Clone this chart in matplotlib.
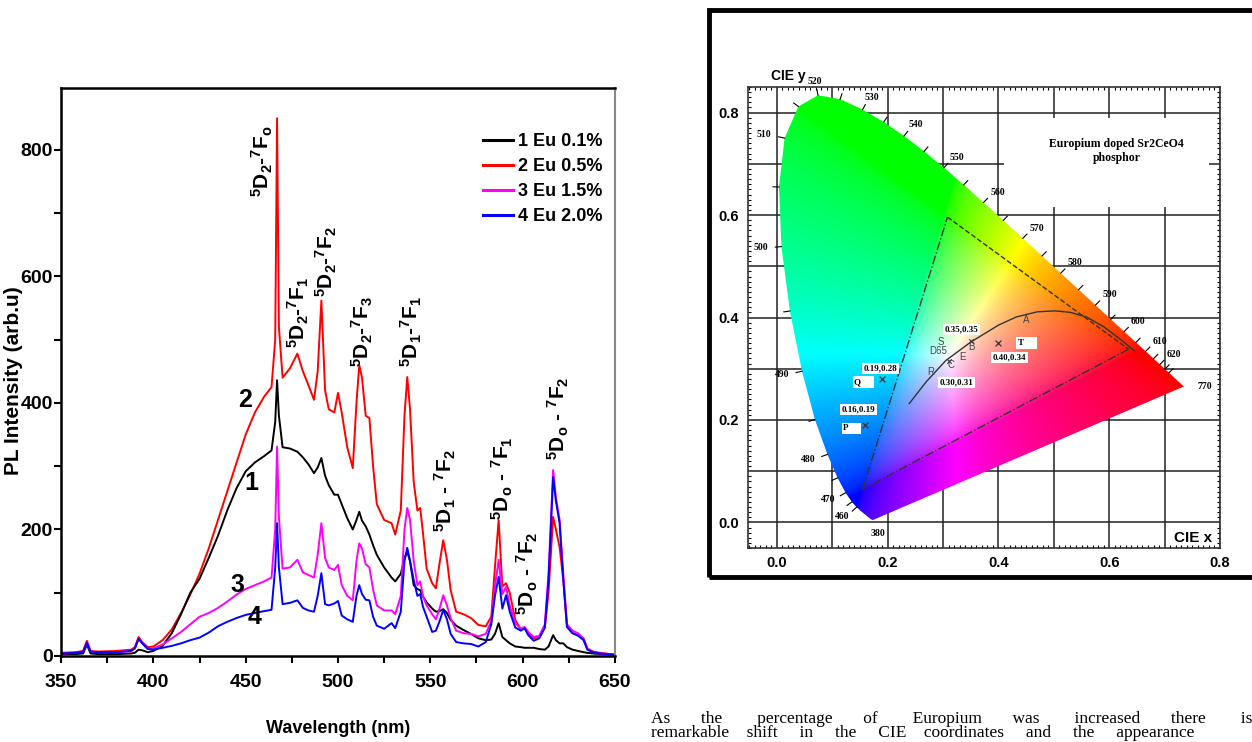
import numpy as np
import matplotlib.pyplot as plt
from matplotlib import font_manager
from matplotlib.lines import Line2D
from matplotlib.patches import Polygon, Rectangle
from matplotlib.ticker import MultipleLocator

plt.rcParams['mathtext.fontset'] = 'custom'
plt.rcParams['mathtext.bf'] = 'Liberation Sans:bold'
plt.rcParams['mathtext.rm'] = 'Liberation Sans:bold'
plt.rcParams['mathtext.default'] = 'bf'

SANS = ['Liberation Sans', 'DejaVu Sans']
SERIF = ['Liberation Serif', 'DejaVu Serif']
# the original uses a condensed bold face; take the narrow Liberation one if present
installed = {f.name for f in font_manager.fontManager.ttflist}
if 'Liberation Sans Narrow' in installed:
    NARROW, tick_fs, legend_fs, xlabel_fs = ['Liberation Sans Narrow'] + SANS, 17, 15, 15
else:
    NARROW, tick_fs, legend_fs, xlabel_fs = SANS, 14, 13, 13

# PL emission spectra of Eu doped Sr2CeO4
wavelength = [350, 358, 362, 364, 366, 370, 380, 388, 390, 392, 394, 397,
              400, 405, 410, 415, 420, 425, 430, 435, 440, 445, 450, 455,
              460, 464, 466, 467, 468, 470, 474, 478, 481, 484, 487, 489,
              491, 493, 495, 498, 500, 502, 505, 508, 510, 511.5, 513, 515,
              517, 519, 521, 525, 529, 531, 534, 536, 537.5, 539, 541, 543,
              544.5, 546, 548, 551, 553, 555, 557, 559, 561, 564, 568, 572,
              576, 580, 583, 585, 587, 589, 591, 593, 596, 599, 601, 603,
              606, 609, 612, 614, 616.5, 618, 620, 622, 624, 627, 630, 633,
              635, 638, 642, 650]
pl_eu01 = [3, 3, 4, 18, 4, 3, 3, 4, 5, 10, 9, 6,
           8, 16, 36, 66, 100, 122, 155, 190, 230, 265, 292, 306,
           316, 325, 370, 436, 380, 330, 328, 323, 314, 303, 289, 298,
           313, 285, 270, 255, 255, 240, 218, 200, 215, 228, 214, 205,
           192, 175, 160, 140, 124, 118, 130, 155, 165, 150, 112, 106,
           104, 94, 85, 75, 70, 71, 74, 68, 57, 48, 41, 35,
           28, 25, 26, 35, 52, 30, 25, 20, 15, 14, 13, 13,
           13, 11, 10, 15, 33, 25, 20, 20, 14, 10, 8, 6,
           5, 4, 3, 2]
pl_eu05 = [5, 6, 8, 24, 8, 7, 8, 10, 14, 30, 22, 14,
           15, 25, 42, 68, 97, 130, 170, 215, 260, 305, 350, 385,
           410, 425, 500, 850, 520, 440, 455, 478, 450, 428, 405, 450,
           562, 420, 390, 385, 416, 385, 330, 297, 400, 460, 440, 380,
           376, 300, 240, 215, 210, 192, 230, 380, 441, 390, 275, 230,
           234, 195, 138, 115, 107, 147, 183, 152, 104, 70, 66, 60,
           49, 47, 62, 141, 215, 110, 115, 100, 57, 42, 44, 35,
           28, 30, 45, 100, 220, 200, 172, 120, 46, 36, 34, 28,
           12, 7, 5, 2]
pl_eu15 = [4, 5, 7, 21, 7, 6, 6, 8, 12, 27, 20, 11,
           12, 18, 28, 38, 50, 62, 68, 76, 86, 97, 106, 112,
           118, 124, 200, 331, 220, 138, 140, 152, 132, 128, 124, 160,
           210, 155, 140, 136, 144, 112, 95, 88, 150, 178, 170, 145,
           140, 105, 80, 72, 72, 66, 95, 200, 234, 215, 150, 112,
           118, 95, 80, 66, 58, 75, 96, 80, 60, 40, 36, 35,
           31, 35, 55, 110, 152, 98, 109, 80, 52, 43, 46, 38,
           30, 32, 50, 130, 294, 250, 215, 130, 50, 40, 36, 26,
           12, 6, 4, 2]
pl_eu20 = [4, 5, 7, 21, 7, 6, 6, 8, 12, 27, 20, 11,
           10, 13, 16, 20, 25, 29, 37, 47, 54, 60, 65, 68,
           71, 73, 140, 210, 140, 82, 84, 88, 76, 72, 70, 95,
           131, 82, 80, 83, 87, 64, 58, 54, 95, 112, 98, 89,
           88, 62, 48, 43, 52, 44, 70, 150, 171, 150, 120, 95,
           98, 78, 62, 38, 40, 55, 73, 58, 35, 22, 20, 19,
           15, 22, 50, 95, 125, 75, 96, 70, 45, 40, 44, 33,
           24, 28, 45, 120, 283, 245, 210, 120, 46, 36, 32, 25,
           10, 6, 4, 2]
series = [pl_eu01, pl_eu05, pl_eu15, pl_eu20]
series_labels = ['1 Eu 0.1%', '2 Eu 0.5%', '3 Eu 1.5%', '4 Eu 2.0%']
series_colors = ['black', '#ff0000', '#ff00ff', '#0000ff']
draw_order = [1, 0, 2, 3]

transitions = [r'$^{5}$D$_{2}$-$^{7}$F$_{o}$', r'$^{5}$D$_{2}$-$^{7}$F$_{1}$',
               r'$^{5}$D$_{2}$-$^{7}$F$_{2}$', r'$^{5}$D$_{2}$-$^{7}$F$_{3}$',
               r'$^{5}$D$_{1}$-$^{7}$F$_{1}$', r'$^{5}$D$_{1}$ - $^{7}$F$_{2}$',
               r'$^{5}$D$_{o}$ - $^{7}$F$_{1}$', r'$^{5}$D$_{o}$ - $^{7}$F$_{2}$',
               r'$^{5}$D$_{o}$ - $^{7}$F$_{2}$']
transition_at = [(458.8, 726), (478.3, 487), (493.5, 568), (513, 457), (540, 457),
                 (558.4, 196), (588.8, 215), (602.8, 65), (619.1, 310)]
curve_numbers = ['2', '1', '3', '4']
curve_number_at = [(449.6, 405), (452.9, 273), (445.8, 112), (455, 62)]

# CIE 1931 spectral locus
locus_wl = [380, 400, 420, 430, 440, 450, 455, 460, 465, 470, 475, 480, 485,
            490, 495, 500, 505, 510, 515, 520, 525, 530, 535, 540, 545, 550,
            555, 560, 565, 570, 575, 580, 585, 590, 595, 600, 605, 610, 615,
            620, 625, 630, 640, 650, 770]
locus_x = [0.1741, 0.1733, 0.1714, 0.1689, 0.1644, 0.1566, 0.1510, 0.1440,
           0.1355, 0.1241, 0.1096, 0.0913, 0.0687, 0.0454, 0.0235, 0.0082,
           0.0039, 0.0139, 0.0389, 0.0743, 0.1142, 0.1547, 0.1929, 0.2296,
           0.2658, 0.3016, 0.3373, 0.3731, 0.4087, 0.4441, 0.4788, 0.5125,
           0.5448, 0.5752, 0.6029, 0.6270, 0.6482, 0.6658, 0.6801, 0.6915,
           0.7006, 0.7079, 0.7190, 0.7260, 0.7347]
locus_y = [0.0050, 0.0048, 0.0051, 0.0069, 0.0109, 0.0177, 0.0227, 0.0297,
           0.0399, 0.0578, 0.0868, 0.1327, 0.2007, 0.2950, 0.4127, 0.5384,
           0.6548, 0.7502, 0.8120, 0.8338, 0.8262, 0.8059, 0.7816, 0.7543,
           0.7243, 0.6923, 0.6589, 0.6245, 0.5896, 0.5547, 0.5202, 0.4866,
           0.4544, 0.4242, 0.3965, 0.3725, 0.3514, 0.3340, 0.3197, 0.3083,
           0.2993, 0.2920, 0.2809, 0.2740, 0.2653]
locus_ticks = [460, 465, 470, 475, 480, 485, 490, 495, 500, 505, 510, 515,
               520, 525, 530, 535, 540, 545, 550, 555, 560, 565, 570, 575,
               580, 585, 590, 595, 600, 605, 610, 615, 620, 625, 630]
locus_labels = [380, 460, 470, 480, 490, 500, 510, 520, 530, 540, 550, 560,
                570, 580, 590, 600, 610, 620, 770]
gamut_x = [0.155, 0.308, 0.635]
gamut_y = [0.065, 0.596, 0.338]
planck_x = [0.239, 0.27, 0.305, 0.35, 0.40, 0.432, 0.47, 0.502, 0.53, 0.559,
            0.59, 0.623, 0.645]
planck_y = [0.232, 0.275, 0.316, 0.352, 0.385, 0.401, 0.411, 0.413, 0.41,
            0.401, 0.382, 0.355, 0.335]
sample_names = ['Q', 'P', 'T']
sample_x = [0.19, 0.16, 0.40]
sample_y = [0.28, 0.19, 0.35]
ref_names = ['S', 'D65', 'B', 'E', 'C', 'R', 'A']
ref_x = [0.296, 0.291, 0.351, 0.335, 0.314, 0.278, 0.451]
ref_y = [0.352, 0.335, 0.342, 0.323, 0.307, 0.294, 0.396]

paragraph = [['As', 'the', 'percentage', 'of', 'Europium', 'was', 'increased',
              'there', 'is', 'a'],
             ['remarkable', 'shift', 'in', 'the', 'CIE', 'coordinates', 'and',
              'the', 'appearance']]

W, H = 1252, 742
fig = plt.figure(figsize=(W / 100, H / 100), dpi=100)

# ---------------- left: PL spectra ----------------
ax = fig.add_axes([61 / W, 1 - 656 / H, 554 / W, 568 / H])
for i in draw_order:
    ax.plot(wavelength, series[i], color=series_colors[i], lw=1.4,
            solid_joinstyle='round')
ax.set_xlim(350, 650)
ax.set_ylim(0, 898)
ax.xaxis.set_major_locator(MultipleLocator(50))
ax.xaxis.set_minor_locator(MultipleLocator(25))
ax.yaxis.set_major_locator(MultipleLocator(200))
ax.yaxis.set_minor_locator(MultipleLocator(100))
ax.tick_params(which='both', direction='out', width=1.5, length=5)
ax.tick_params(which='major', labelsize=tick_fs)
ax.tick_params(axis='x', which='major', pad=8)
ax.tick_params(axis='y', which='major', pad=1)
for lab in ax.get_xticklabels() + ax.get_yticklabels():
    lab.set_family(NARROW)
    lab.set_fontweight('bold')
for side in ['left', 'bottom', 'top']:
    ax.spines[side].set_linewidth(1.8)
ax.spines['right'].set_color('#888888')
ax.spines['right'].set_linewidth(1.5)
ax.set_xlabel('Wavelength (nm)', fontsize=xlabel_fs, fontweight='bold', family=NARROW)
ax.xaxis.set_label_coords(0.5, -0.113)
ax.set_ylabel('PL Intensity (arb.u)', fontsize=15, fontweight='bold', family=SANS)
ax.yaxis.set_label_coords(-0.069, 0.484)

for txt, (x, y) in zip(transitions, transition_at):
    ax.text(x, y, txt, rotation=90, ha='center', va='bottom', fontsize=15,
            fontweight='bold', family=SANS)
for txt, (x, y) in zip(curve_numbers, curve_number_at):
    ax.text(x, y, txt, ha='center', va='center', fontsize=18,
            fontweight='bold', family=NARROW)

handles = [Line2D([], [], color=c, lw=2.2) for c in series_colors]
ax.legend(handles, series_labels, loc='upper left',
          bbox_to_anchor=(0.7617, 0.921), frameon=False, handlelength=1.67,
          handletextpad=0.28, labelspacing=0.45, borderpad=0, borderaxespad=0,
          prop={'family': NARROW, 'weight': 'bold', 'size': legend_fs})

# ---------------- right: CIE diagram ----------------
fig.patches.append(Rectangle((709 / W, 1 - 577 / H), 560 / W, 567 / H,
                             transform=fig.transFigure, fill=False,
                             edgecolor='black', lw=3.5))
cax = fig.add_axes([747.5 / W, 1 - 548 / H, 472.5 / W, 461 / H])
cax.set_xlim(-0.053, 0.8)
cax.set_ylim(-0.05, 0.85)
cax.set_axisbelow(True)
cax.set_xticks(np.arange(0, 0.81, 0.1))
cax.set_yticks(np.arange(0, 0.81, 0.1))
cax.set_xticklabels(['0.0', '', '0.2', '', '0.4', '', '0.6', '', '0.8'])
cax.set_yticklabels(['0.0', '', '0.2', '', '0.4', '', '0.6', '', '0.8'])
cax.xaxis.set_minor_locator(MultipleLocator(0.01))
cax.yaxis.set_minor_locator(MultipleLocator(0.01))
cax.tick_params(which='major', length=0, labelsize=10.5, pad=6)
cax.tick_params(which='minor', direction='in', length=2.5, width=0.8,
                top=True, right=True)
for lab in cax.get_xticklabels() + cax.get_yticklabels():
    lab.set_family(SANS)
    lab.set_fontweight('bold')
cax.grid(True, color='#222222', lw=1.1)
for s in cax.spines.values():
    s.set_linewidth(1.2)
    s.set_color('#333333')
# blank patch behind the caption, as in the original scan
cax.add_patch(Rectangle((0.41, 0.615), 0.37, 0.175, facecolor='white',
                        edgecolor='none', zorder=1))

gx, gy = np.meshgrid(np.linspace(-0.053, 0.8, 360), np.linspace(-0.05, 0.85, 380))
ys = np.clip(gy, 1e-3, None)
Xc, Zc = gx / ys, (1 - gx - gy) / ys
rgb = np.stack([3.2406 * Xc - 1.5372 - 0.4986 * Zc,
                -0.9689 * Xc + 1.8758 + 0.0415 * Zc,
                0.0557 * Xc - 0.2040 + 1.0570 * Zc], axis=-1)
rgb = np.clip(rgb, 0, None)
rgb = rgb / np.clip(rgb.max(axis=-1, keepdims=True), 1e-6, None)
rgb = rgb ** (1 / 1.8)
im = cax.imshow(rgb, extent=(-0.053, 0.8, -0.05, 0.85), origin='lower',
                aspect='auto', zorder=2, interpolation='bilinear')
horseshoe = Polygon(np.column_stack([locus_x, locus_y]), closed=True,
                    transform=cax.transData, facecolor='none', edgecolor='none')
cax.add_patch(horseshoe)
im.set_clip_path(horseshoe)

# outward normals of the locus (it runs clockwise), for ticks and labels
lx, ly = np.array(locus_x), np.array(locus_y)


def locus_normal(k):
    a, b = max(k - 1, 0), min(k + 1, len(lx) - 1)
    tx, ty = (lx[b] - lx[a]) * 555, (ly[b] - ly[a]) * 512
    n = np.hypot(tx, ty)
    return -ty / n, tx / n


for w in locus_ticks:
    k = locus_wl.index(w)
    nx, ny = locus_normal(k)
    cax.plot([lx[k], lx[k] + 0.011 * nx], [ly[k], ly[k] + 0.011 * ny],
             color='black', lw=0.8, zorder=3)
for w in locus_labels:
    k = locus_wl.index(w)
    nx, ny = locus_normal(k)
    if w == 770:
        nx, ny = 1.0, 0.0
    cax.annotate(str(w), (lx[k], ly[k]), xytext=(15 * nx, 10 * ny),
                 textcoords='offset points', ha='center', va='center',
                 fontsize=7, fontweight='bold', family=SERIF, zorder=4)

cax.plot([gamut_x[0], gamut_x[1]], [gamut_y[0], gamut_y[1]], color='#333333',
         lw=1, ls='-.', zorder=3)
cax.plot([gamut_x[1], gamut_x[2]], [gamut_y[1], gamut_y[2]], color='#333333',
         lw=1, ls='--', zorder=3)
cax.plot([gamut_x[2], gamut_x[0]], [gamut_y[2], gamut_y[0]], color='#333333',
         lw=1, ls='-.', zorder=3)
cax.plot(planck_x, planck_y, color='#333333', lw=1, zorder=3)
cax.scatter(sample_x, sample_y, marker='x', s=18, color='#333333', lw=0.9, zorder=4)
cax.scatter([0.35, 0.31], [0.355, 0.316], marker='x', s=10, color='#333333',
            lw=0.8, zorder=4)

box = dict(facecolor='white', edgecolor='none', pad=1.2)
small = dict(fontsize=6.5, fontweight='bold', family=SERIF, zorder=5)
for name, x, y, dx, dy in zip(sample_names, sample_x, sample_y,
                              [-0.05, -0.04, 0.035], [-0.006, -0.006, 0.0]):
    cax.text(x + dx, y + dy, name + '     ', ha='left', va='center', bbox=box,
             **small)
cax.text(0.187, 0.30, '%.2f,%.2f' % (sample_x[0], sample_y[0]), ha='center',
         va='center', bbox=box, **small)
cax.text(0.147, 0.221, '%.2f,%.2f' % (sample_x[1], sample_y[1]), ha='center',
         va='center', bbox=box, **small)
cax.text(0.42, 0.322, '%.2f,%.2f' % (sample_x[2], 0.34), ha='center',
         va='center', bbox=box, **small)
cax.text(0.333, 0.377, '0.35,0.35', ha='center', va='center', bbox=box, **small)
cax.text(0.324, 0.273, '0.30,0.31', ha='center', va='center', bbox=box, **small)
for name, x, y in zip(ref_names, ref_x, ref_y):
    cax.text(x, y, name, ha='center', va='center', fontsize=7,
             color='#444444', family=SANS, zorder=5)

cax.text(0.613, 0.725, 'Europium doped Sr2CeO4\nphosphor', ha='center',
         va='center', fontsize=8.5, fontweight='bold', family=SERIF,
         linespacing=1.3, zorder=5)
cax.text(0.785, -0.03, 'CIE x', ha='right', va='center', fontsize=11,
         fontweight='bold', family=SANS, zorder=5)
fig.text(771 / W, 1 - 76 / H, 'CIE y', ha='left', va='center', fontsize=10,
         fontweight='bold', family=SANS)

# ---------------- paragraph text below the CIE image ----------------
# justified like the source page: pad the gaps with spaces so the word
# before the cut-off ends where it does in the page scan
renderer = fig.canvas.get_renderer()
probe = fig.text(0, 0, 'x x', fontsize=12.5, family=SERIF)
space_w = probe.get_window_extent(renderer).width
probe.set_text('xx')
space_w -= probe.get_window_extent(renderer).width
probe.remove()
line_targets = [1241, 1118]   # x (pixels) where the word that runs off starts
lines = []
for words, target in zip(paragraph, line_targets):
    k = 8
    t = fig.text(0, 0, ' '.join(words[:k]), fontsize=12.5, family=SERIF)
    width = t.get_window_extent(renderer).width
    t.remove()
    extra = max(target - 651 - width - space_w, 0) / space_w
    per_gap = extra / k
    out, carry = words[0], 0.0
    for w_ in words[1:]:
        carry += per_gap
        n = int(carry)
        carry -= n
        out += ' ' * (1 + n) + w_
    lines.append(out)
fig.text(651 / W, 1 - 737 / H, '\n'.join(lines), fontsize=12.5, family=SERIF,
         va='baseline', ha='left', linespacing=0.85)

fig.savefig('out.png', dpi=100)
